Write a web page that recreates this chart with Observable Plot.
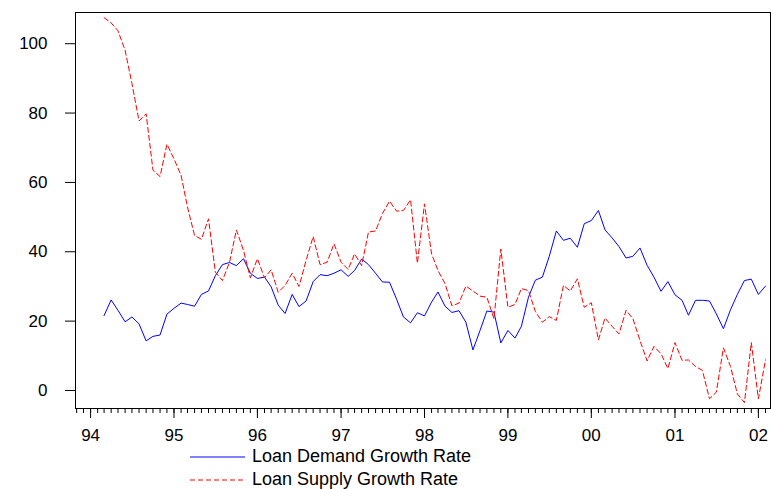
<!DOCTYPE html>
<html>
<head>
<meta charset="utf-8">
<script src="https://cdn.jsdelivr.net/npm/d3@7"></script>
<script src="https://cdn.jsdelivr.net/npm/@observablehq/plot@0.6"></script>
<style>
  body { margin: 0; background: #fff; font-family: Arial, "Liberation Sans", sans-serif; }
  #legend { margin-left: 190px; font-size: 18px; line-height: 23px; margin-top: 0px; }
  #legend div { display: flex; align-items: center; }
  #legend svg { margin-right: 7px; }
</style>
</head>
<body>
<div id="chart"></div>
<div id="legend"></div>
<script>
// monthly series, March 1994 .. February 2002
const startYear = 1994, startMonth = 2;

const demand = [
  21.6, 26.1, 23.1, 19.8, 21.2, 19.2, 14.3, 15.6, 16.0, 22.0,
  23.7, 25.2, 24.8, 24.3, 27.7, 28.7, 33.1, 36.3, 36.9, 36.0,
  38.0, 33.8, 32.3, 32.7, 29.9, 24.6, 22.2, 27.7, 24.2, 25.8,
  31.4, 33.4, 33.1, 33.8, 34.8, 32.9, 34.6, 37.9, 36.3, 33.8,
  31.3, 31.2, 26.3, 21.2, 19.5, 22.4, 21.5, 25.5, 28.4, 24.3,
  22.5, 23.0, 19.7, 11.7, 17.3, 22.9, 22.6, 13.7, 17.3, 15.1,
  18.5, 26.9, 31.8, 32.7, 38.7, 46.0, 43.3, 43.9, 41.3, 48.1,
  49.0, 51.9, 46.3, 44.0, 41.5, 38.2, 38.7, 41.1, 36.1, 32.7,
  28.6, 31.4, 27.6, 26.0, 21.7, 26.0, 26.0, 25.8, 22.1, 17.8,
  23.3, 27.7, 31.7, 32.1, 27.7, 30.1
];

const supply = [
  107.5, 106.0, 103.7, 98.1, 88.5, 77.7, 79.8, 63.5, 61.7, 71.0,
  66.8, 62.0, 52.9, 44.7, 43.6, 49.5, 34.1, 31.7, 37.0, 46.3,
  40.4, 32.5, 38.0, 32.5, 34.8, 28.3, 30.3, 33.8, 30.0, 37.5,
  44.4, 36.3, 37.0, 42.3, 37.0, 34.9, 39.4, 36.0, 45.7, 46.0,
  51.0, 54.6, 51.7, 51.9, 55.0, 36.7, 53.8, 39.4, 34.6, 30.8,
  24.4, 25.2, 30.1, 28.7, 27.2, 26.9, 20.7, 40.8, 24.0, 24.8,
  29.4, 28.8, 22.8, 19.7, 21.3, 20.2, 30.3, 28.7, 32.2, 24.0,
  25.3, 14.6, 20.9, 18.5, 16.3, 23.1, 20.7, 14.4, 8.5, 12.7,
  10.6, 6.3, 13.8, 8.7, 8.8, 6.9, 5.8, -2.4, -0.5, 12.3,
  6.9, -1.0, -3.5, 13.8, -2.4, 8.8
];

const yTicks = [0, 20, 40, 60, 80, 100];
const seriesNames = ["Loan Demand Growth Rate", "Loan Supply Growth Rate"];
const seriesColors = ["#0000ff", "#ff0000"];
const seriesDash = [null, "5,3"];

const monthDate = i => new Date(Date.UTC(startYear, startMonth + i, 1));
const rows = [];
demand.forEach((v, i) => rows.push({date: monthDate(i), value: v, series: seriesNames[0]}));
supply.forEach((v, i) => rows.push({date: monthDate(i), value: v, series: seriesNames[1]}));

const xDomain = [new Date(Date.UTC(1993, 9, 27)), new Date(Date.UTC(2002, 1, 23))];
const years = d3.utcYear.range(new Date(Date.UTC(1994, 0, 1)), new Date(Date.UTC(2002, 1, 1)));
const months = d3.utcMonth.range(new Date(Date.UTC(1993, 10, 1)), xDomain[1]);

const plot = Plot.plot({
  width: 771,
  height: 445,
  marginLeft: 75,
  marginRight: 1,
  marginTop: 12,
  marginBottom: 37,
  style: {fontFamily: "Arial, 'Liberation Sans', sans-serif", fontSize: "17px", color: "#000"},
  x: {type: "utc", domain: xDomain},
  y: {domain: [-5.2, 109]},
  marks: [
    Plot.frame({stroke: "#000"}),
    Plot.axisY({ticks: yTicks, tickSize: 10, tickPadding: 18, label: null, fontSize: 17}),
    Plot.axisX({ticks: months, tickSize: 5, tickFormat: () => "", label: null}),
    Plot.axisX({ticks: years, tickSize: 10, tickPadding: 10, tickFormat: d3.utcFormat("%y"), label: null, fontSize: 17}),
    Plot.line(rows.filter(d => d.series === seriesNames[0]), {x: "date", y: "value", stroke: seriesColors[0], strokeWidth: 1}),
    Plot.line(rows.filter(d => d.series === seriesNames[1]), {x: "date", y: "value", stroke: seriesColors[1], strokeWidth: 1, strokeDasharray: seriesDash[1]})
  ]
});
document.getElementById("chart").appendChild(plot);

const legend = document.getElementById("legend");
seriesNames.forEach((name, i) => {
  const row = document.createElement("div");
  row.innerHTML = `<svg width="55" height="10"><line x1="0" x2="55" y1="5" y2="5" stroke="${seriesColors[i]}" stroke-width="1" ${seriesDash[i] ? `stroke-dasharray="${seriesDash[i]}"` : ""}/></svg><span>${name}</span>`;
  legend.appendChild(row);
});
</script>
</body>
</html>
